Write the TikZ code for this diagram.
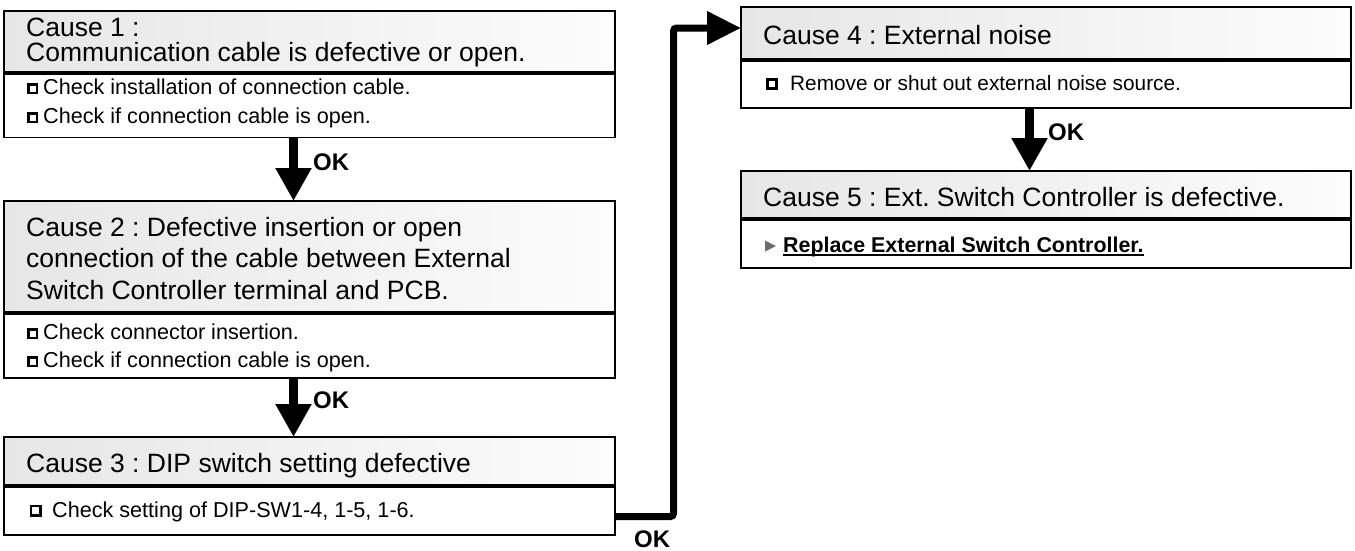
\documentclass[tikz,border=0pt]{standalone}
\usepackage{fontspec}
\setmainfont{Liberation Sans}
\usetikzlibrary{arrows.meta}
\definecolor{hdrL}{RGB}{230,230,230}
\definecolor{hdrR}{RGB}{252,252,252}
\definecolor{triGray}{RGB}{110,110,110}
\tikzset{
  hdr/.style={draw, line width=1.8pt, left color=hdrL, right color=hdrR, inner sep=0pt, outer sep=0pt, anchor=north west},
  bdy/.style={draw, line width=1.8pt, fill=white, inner sep=0pt, outer sep=0pt, anchor=north west},
  htxt/.style={font=\fontsize{26.5}{30}\selectfont, anchor=base west, inner sep=0pt},
  ctxt/.style={font=\fontsize{21.6}{25}\selectfont, anchor=base west, inner sep=0pt},
  rtxt/.style={font=\fontsize{20.8}{25}\selectfont, anchor=base west, inner sep=0pt},
  oktxt/.style={font=\bfseries\fontsize{24}{28}\selectfont, anchor=base west, inner sep=0pt},
  reptxt/.style={font=\bfseries\fontsize{21.4}{25}\selectfont, anchor=base west, inner sep=0pt},
  cbox/.style={draw, line width=2.5pt, minimum size=8.5pt, inner sep=0pt, outer sep=0pt},
  cboxw/.style={draw, line width=2.7pt, minimum size=9.3pt, inner sep=0pt, outer sep=0pt},
  flow/.style={line width=9pt, -{Triangle[width=34pt,length=33pt]}},
  jump/.style={line width=7pt, rounded corners=3pt, -{Triangle[width=32pt,length=34pt]}}
}
\begin{document}
\frenchspacing
\begin{tikzpicture}[x=1pt,y=-1pt]
\useasboundingbox (0,0) rectangle (1355,550);
% ---------- Cause 1
\node[hdr, minimum width=611pt, minimum height=61pt] (c1h) at (4,11) {};
\node[bdy, minimum width=611pt, minimum height=63.5pt] (c1b) at (4,74) {};
\node[htxt] (t1a) at (26,36) {Cause 1 :};
\node[htxt] (t1b) at (26,61) {Communication cable is defective or open.};
\node[cbox] (b1a) at (32.5,88.5) {};
\node[ctxt] (k1a) at (43,94) {Check installation of connection cable.};
\node[cbox] (b1b) at (32.5,117.5) {};
\node[ctxt] (k1b) at (43,123) {Check if connection cable is open.};
% ---------- Cause 2
\node[hdr, minimum width=611pt, minimum height=111pt] (c2h) at (4,201) {};
\node[bdy, minimum width=611pt, minimum height=64pt] (c2b) at (4,314) {};
\node[htxt] (t2a) at (26,236) {Cause 2 : Defective insertion or open};
\node[htxt] (t2b) at (26,267) {connection of the cable between External};
\node[htxt] (t2c) at (26,299) {Switch Controller terminal and PCB.};
\node[cbox] (b2a) at (32.5,333.5) {};
\node[ctxt] (k2a) at (43,339) {Check connector insertion.};
\node[cbox] (b2b) at (32.5,361.5) {};
\node[ctxt] (k2b) at (43,367) {Check if connection cable is open.};
% ---------- Cause 3
\node[hdr, minimum width=611pt, minimum height=48pt] (c3h) at (4,437) {};
\node[bdy, minimum width=611pt, minimum height=48pt] (c3b) at (4,487) {};
\node[htxt] (t3a) at (26,472) {Cause 3 : DIP switch setting defective};
\node[cboxw] (b3a) at (35.5,510.5) {};
\node[ctxt] (k3a) at (52,517) {Check setting of DIP-SW1-4, 1-5, 1-6.};
% ---------- Cause 4
\node[hdr, minimum width=610pt, minimum height=52pt] (c4h) at (741,7) {};
\node[bdy, minimum width=610pt, minimum height=47pt] (c4b) at (741,61) {};
\node[htxt] (t4a) at (763,44) {Cause 4 : External noise};
\node[cboxw] (b4a) at (772,84) {};
\node[rtxt] (k4a) at (790,90) {Remove or shut out external noise source.};
% ---------- Cause 5
\node[hdr, minimum width=610pt, minimum height=47pt] (c5h) at (741,171) {};
\node[bdy, minimum width=610pt, minimum height=48pt] (c5b) at (741,220) {};
\node[htxt] (t5a) at (763,206) {Cause 5 : Ext. Switch Controller is defective.};
\fill[triGray] (765,240.5) -- (776,246) -- (765,251.5) -- cycle;
\node[reptxt] (rep) at (783,252) {Replace External Switch Controller.};
\draw[line width=1.4pt] ([yshift=-3pt]rep.base west) -- ([yshift=-3pt]rep.base east);
% ---------- dividers
\foreach \n in {c1h,c2h,c3h,c4h,c5h}
  \draw[line width=2.6pt] ([yshift=-0.6pt]\n.south west) -- ([yshift=-0.6pt]\n.south east);
% ---------- connectors
\coordinate (ax) at (293.5,0);
\coordinate (bx) at (1029.5,0);
\draw[flow] (c1b.south -| ax) -- (c2h.north -| ax);
\draw[flow] (c2b.south -| ax) -- (c3h.north -| ax);
\draw[flow] (c4b.south -| bx) -- (c5h.north -| bx);
\node[oktxt] (ok1) at (313,170) {OK};
\node[oktxt] (ok2) at (313,408) {OK};
\node[oktxt] (ok4) at (1048,140) {OK};
\coordinate (j1) at (673.5,516.5);
\coordinate (j2) at (673.5,28);
\draw[jump] (c3b.east |- j1) -- (j1) -- (j2) -- (c4h.west |- j2);
\node[oktxt] (ok3) at (634,547) {OK};
\end{tikzpicture}
\end{document}
